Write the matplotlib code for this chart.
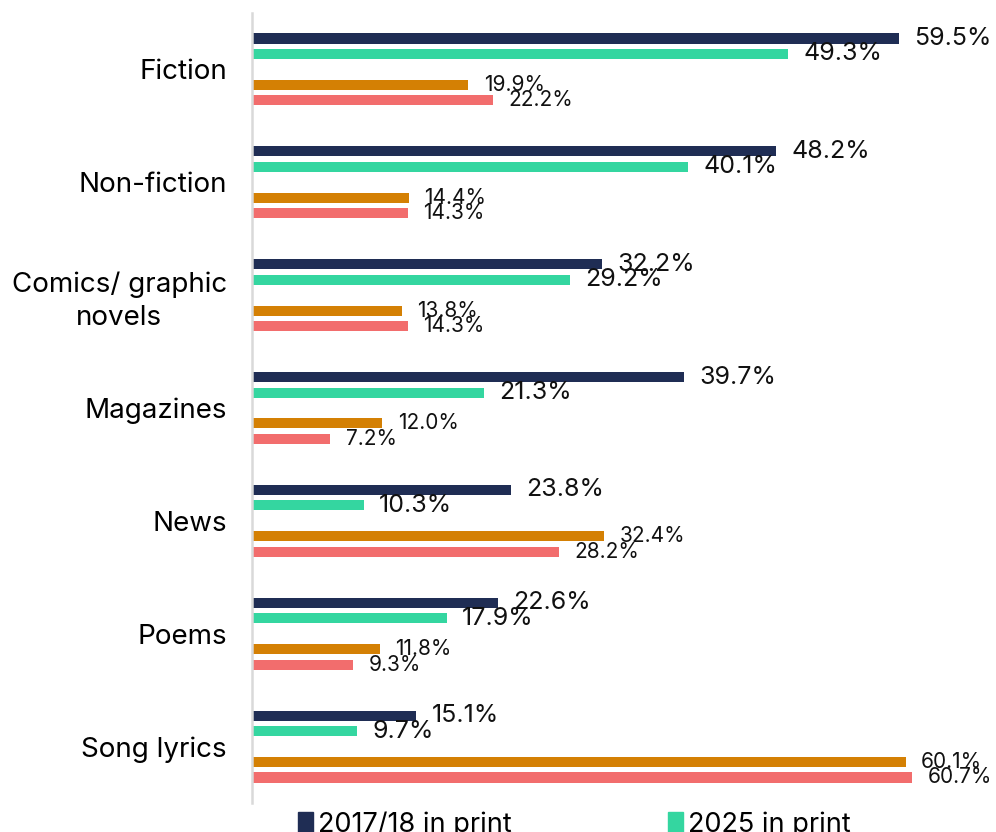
import matplotlib
matplotlib.use("Agg")
import matplotlib.pyplot as plt
import numpy as np
from matplotlib.patches import Patch

plt.rcParams['font.family'] = ['Inter', 'DejaVu Sans']

categories = ["Fiction", "Non-fiction", "Comics/ graphic\nnovels", "Magazines", "News", "Poems", "Song lyrics"]
series_names = ["2017/18 in print", "2025 in print", "2017/18 on screen", "2025 on screen"]
print_2017 = [59.5, 48.2, 32.2, 39.7, 23.8, 22.6, 15.1]
print_2025 = [49.3, 40.1, 29.2, 21.3, 10.3, 17.9, 9.7]
screen_2017 = [19.9, 14.4, 13.8, 12.0, 32.4, 11.8, 60.1]
screen_2025 = [22.2, 14.3, 14.3, 7.2, 28.2, 9.3, 60.7]

colors = ["#1f2d54", "#34d6a0", "#d48004", "#f26d6d"]
offsets = [-2, -1, 1, 2]
label_sizes = [18, 18, 15, 15]
step = 0.137
bar_h = 0.089

W, H = 996, 832
fig = plt.figure(figsize=(W / 100, H / 100), dpi=100)
ax = fig.add_axes([252 / W, 1 - 803 / H, (996 - 252) / W, (803 - 13) / H])

y = np.arange(len(categories))
all_series = [print_2017, print_2025, screen_2017, screen_2025]
for vals, col, off, fs, name in zip(all_series, colors, offsets, label_sizes, series_names):
    pos = y + off * step
    ax.barh(pos, vals, height=bar_h, color=col, label=name)
    for p, v in zip(pos, vals):
        ax.text(v + 1.4, p, f"{v:.1f}%", va='center', ha='left', fontsize=fs, color='#111111')

ax.set_xlim(0, (996 - 253) / 10.86)
ax.set_ylim(len(categories) - 0.5, -0.5)
ax.set_yticks(y)
ax.set_yticklabels(categories, fontsize=20, multialignment='center', linespacing=1.35)
ax.tick_params(axis='y', length=0, pad=18)
ax.set_xticks([])
for s in ['top', 'right', 'bottom']:
    ax.spines[s].set_visible(False)
ax.spines['left'].set_color('#d9d9d9')
ax.spines['left'].set_linewidth(1.8)

handles = [Patch(color=colors[0]), Patch(color=colors[1])]
fig.legend(handles, series_names[:2], loc='upper left', ncol=2, frameon=False,
           bbox_to_anchor=(290 / W, 1 - 803 / H), fontsize=19.5,
           handlelength=0.55, handleheight=0.75, handletextpad=0.2,
           columnspacing=5.75, borderaxespad=0, borderpad=0.3)

fig.savefig("out.png", dpi=100)
